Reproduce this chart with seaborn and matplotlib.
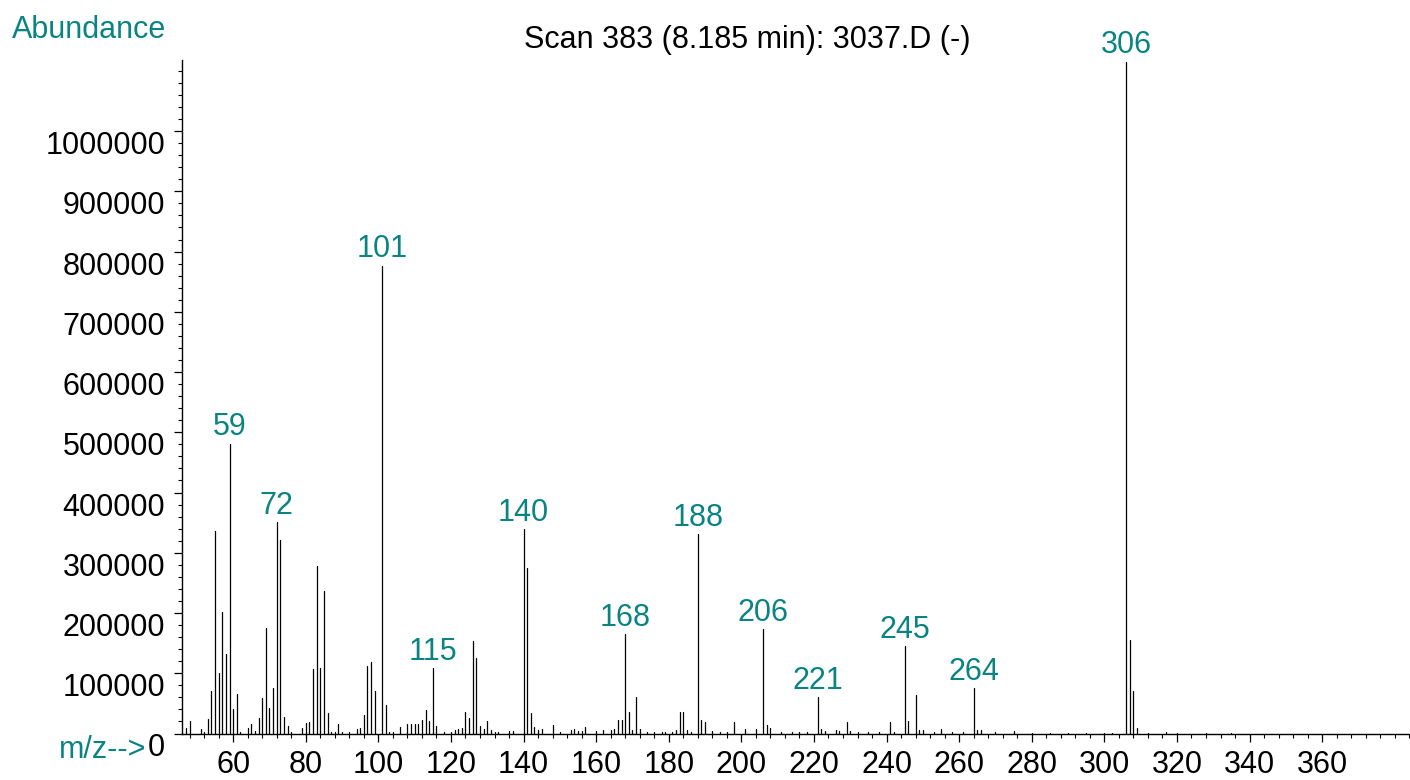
import numpy as np
import pandas as pd
import matplotlib
matplotlib.use("Agg")
import matplotlib.pyplot as plt
from matplotlib.ticker import MultipleLocator
import seaborn as sns

# Mass spectrum: ion m/z and abundance
mz = [47, 48, 51, 52, 53, 54, 55, 56, 57, 58, 59, 60, 61, 62, 64, 65, 66, 67, 68, 69,
      70, 71, 72, 73, 74, 75, 76, 79, 80, 81, 82, 83, 84, 85, 86, 87, 88, 89, 90, 92,
      94, 95, 96, 97, 98, 99, 101, 102, 103, 104, 106, 108, 109, 110, 111, 112, 113, 114, 115, 116,
      118, 120, 121, 122, 123, 124, 125, 126, 127, 128, 129, 130, 131, 132, 133, 136, 137, 140, 141, 142,
      143, 144, 145, 148, 150, 153, 154, 155, 156, 157, 160, 162, 164, 165, 166, 167, 168, 169, 170, 171,
      172, 174, 176, 178, 179, 181, 182, 183, 184, 185, 186, 188, 189, 190, 192, 194, 196, 198, 201, 204,
      206, 207, 208, 211, 214, 216, 218, 221, 222, 223, 226, 227, 229, 230, 232, 235, 238, 241, 242, 245,
      246, 248, 249, 250, 253, 255, 258, 261, 264, 265, 266, 270, 275, 280, 285, 290, 295, 300, 302, 306,
      307, 308, 309, 312, 317, 320, 328, 335]
abundance = [8600, 20800, 7000, 2000, 24000, 70600, 336000, 100500, 201800, 132000,
             481000, 40000, 65600, 2000, 9600, 15000, 4000, 25000, 59500, 175700,
             42900, 75600, 350800, 321000, 26900, 12500, 2000, 8600, 18000, 19600,
             107000, 277700, 108300, 236700, 33500, 3000, 2000, 15800, 2000, 2000,
             7000, 9100, 31000, 112300, 119300, 71100, 776500, 47300, 3000, 2000,
             11300, 15800, 15000, 15000, 15000, 22400, 39000, 21300, 108800, 12500,
             2000, 2000, 5000, 8000, 9000, 35500, 25200, 153600, 125500, 12500,
             7000, 21300, 5500, 3000, 2000, 4000, 4000, 339700, 274400, 33500,
             11300, 5000, 7000, 13800, 2000, 5800, 7000, 4700, 3700, 11300,
             4700, 5800, 6000, 8000, 21800, 21800, 165300, 36000, 5800, 61100,
             7800, 3000, 3000, 2500, 2500, 3000, 5000, 35000, 36000, 5800,
             3000, 331400, 22400, 19600, 3500, 3000, 3000, 18900, 7000, 7000,
             173000, 14000, 9600, 2000, 2000, 2000, 3000, 60100, 8000, 3500,
             5000, 3500, 19400, 4000, 3000, 2000, 3000, 18900, 2500, 145300,
             21300, 63400, 5800, 5800, 2000, 7500, 2000, 2000, 75300, 5800,
             5800, 2000, 4000, 1500, 1500, 1500, 1500, 1500, 1500, 1115000,
             155300, 70800, 9600, 1500, 2000, 1000, 1500, 1000]
labeled_mz = [59, 72, 101, 115, 140, 168, 188, 206, 221, 245, 264, 306]

title = "Scan 383 (8.185 min): 3037.D (-)"
x_ticks = list(range(60, 361, 20))
y_ticks = list(range(0, 1000001, 100000))

sns.set_theme(style="ticks")
plt.rcParams['font.family'] = ['Liberation Sans', 'DejaVu Sans']
TEAL = '#0a8482'
FS = 22

# long-form table: every ion is a two-point stick rising from the baseline
sticks = pd.DataFrame({
    'mz': np.repeat(mz, 2),
    'abundance': np.column_stack([np.zeros(len(abundance)), abundance]).ravel(),
    'ion': np.repeat(np.arange(len(mz)), 2),
})

W, H = 1410, 780
fig = plt.figure(figsize=(W / 100, H / 100), dpi=100)
ax = fig.add_axes([182 / W, 1 - 733.5 / H, 1 - 182 / W, (733.5 - 60) / H])

sns.lineplot(data=sticks, x='mz', y='abundance', units='ion', estimator=None,
             sort=False, color='black', linewidth=0.9, legend=False, ax=ax)

for m in labeled_mz:
    v = abundance[mz.index(m)]
    ax.annotate(str(m), (m, v), xytext=(0, 6), textcoords='offset points',
                ha='center', va='baseline', color=TEAL, fontsize=FS)

ax.set_xlim(45.9, 384.2)
ax.set_ylim(0, 1118000)
ax.set_xticks(x_ticks)
ax.set_xticklabels([str(t) for t in x_ticks])
ax.xaxis.set_minor_locator(MultipleLocator(4))
ax.set_yticks(y_ticks)
ax.set_yticklabels([str(t) for t in y_ticks])
ax.yaxis.set_minor_locator(MultipleLocator(20000))
ax.set_xlabel('')
ax.set_ylabel('')

sns.despine(ax=ax)
for side in ('left', 'bottom'):
    ax.spines[side].set_color('black')
    ax.spines[side].set_linewidth(1.0)

ax.tick_params(which='major', length=6, width=0.9, color='black',
               labelsize=FS, labelcolor='black')
ax.tick_params(which='minor', length=3, width=0.8, color='black')
ax.tick_params(axis='x', which='major', pad=6)
ax.tick_params(axis='y', which='major', pad=6)
for lbl in ax.get_yticklabels():
    lbl.set_verticalalignment('top')

fig.text(12 / W, 1 - 15 / H, 'Abundance', color=TEAL, ha='left', va='top', fontsize=FS)
fig.text(747 / W, 1 - 40 / H, title, color='black', ha='center', va='center', fontsize=FS)
fig.text(146 / W, 1 - 735 / H, 'm/z-->', color=TEAL, ha='right', va='top', fontsize=FS)

fig.savefig('out.png', dpi=100)
